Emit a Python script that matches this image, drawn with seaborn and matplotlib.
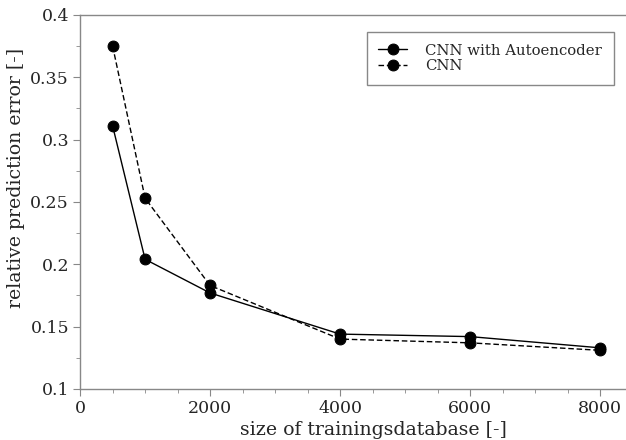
import matplotlib
matplotlib.use("Agg")
import matplotlib.pyplot as plt
from matplotlib.ticker import MultipleLocator
import seaborn as sns
import pandas as pd

sizes = [500, 1000, 2000, 4000, 6000, 8000]
err_autoencoder = [0.311, 0.204, 0.177, 0.144, 0.142, 0.133]
err_cnn = [0.375, 0.253, 0.183, 0.140, 0.137, 0.131]
series_names = ["CNN with Autoencoder", "CNN"]

df = pd.DataFrame({
    "size": sizes * 2,
    "err": err_autoencoder + err_cnn,
    "model": [series_names[0]] * len(sizes) + [series_names[1]] * len(sizes),
})

sns.set_style("ticks")
plt.rcParams["font.family"] = ["DejaVu Serif"]

fig = plt.figure(figsize=(6.26, 4.4), dpi=100)
ax = fig.add_axes([0.128, 0.116, 0.872, 0.85])

sns.lineplot(data=df, x="size", y="err", hue="model", style="model",
             palette=["black", "black"], dashes={series_names[0]: "", series_names[1]: (4, 2)},
             markers={series_names[0]: "o", series_names[1]: "o"}, markersize=7.8,
             markeredgecolor="black", linewidth=1.0, ax=ax)

ax.set_xlim(0, 8400)
ax.set_ylim(0.1, 0.4)
ax.xaxis.set_major_locator(MultipleLocator(2000))
ax.xaxis.set_minor_locator(MultipleLocator(500))
ax.yaxis.set_minor_locator(MultipleLocator(0.025))
ax.set_yticks([0.1, 0.15, 0.2, 0.25, 0.3, 0.35, 0.4])
ax.set_yticklabels(["0.1", "0.15", "0.2", "0.25", "0.3", "0.35", "0.4"])

ax.tick_params(axis="both", which="major", direction="out", length=5, color="#888888", labelsize=12.5, pad=3)
ax.tick_params(axis="both", which="minor", direction="out", length=3, color="#888888")

for s in ["left", "bottom", "top"]:
    ax.spines[s].set_color("#888888")
    ax.spines[s].set_linewidth(1.0)
ax.spines["right"].set_visible(False)

ax.set_xlabel("size of trainingsdatabase [-]", fontsize=13.6)
ax.set_ylabel("relative prediction error [-]", fontsize=13.6)
ax.xaxis.set_label_coords(0.538, -0.086)
ax.yaxis.set_label_coords(-0.101, 0.564)

leg = ax.legend(loc="upper right", bbox_to_anchor=(0.978, 0.955), borderaxespad=0,
                fontsize=10.7, frameon=True, fancybox=False, edgecolor="#888888", framealpha=1,
                borderpad=0.8, handlelength=1.9, handletextpad=1.25, labelspacing=0.1)
leg.get_frame().set_linewidth(1.0)

fig.savefig("out.png", dpi=100)
